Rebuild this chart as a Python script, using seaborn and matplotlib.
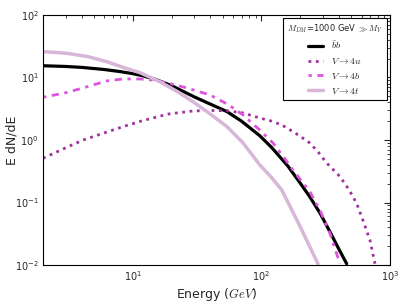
import numpy as np
import pandas as pd
import matplotlib
matplotlib.use('Agg')
import matplotlib.pyplot as plt
import seaborn as sns

# values (energy in GeV, E dN/dE)
bb_E = [2.0, 3.0, 4.0, 6.0, 8.0, 10.0, 12.0, 15.0, 20.0, 30.0, 40.0, 54.0, 70.0, 97.0, 120.0,
        161.0, 200.0, 238.0, 285.0, 341.0, 400.0, 460.0]
bb_y = [15.4, 15.0, 14.5, 13.4, 12.4, 11.5, 10.6, 9.3, 7.4, 4.9, 3.75, 2.84, 2.0, 1.17, 0.76,
        0.38, 0.205, 0.123, 0.068, 0.034, 0.018, 0.0105]

u_E = [2.0, 3.0, 4.1, 6.0, 8.35, 12.0, 18.8, 29.3, 40.0, 54.0, 72.0, 97.0, 120.0, 144.0, 167.0,
       200.0, 238.0, 280.0, 321.0, 408.0, 480.0, 550.0, 620.0, 698.0, 764.0]
u_y = [0.51, 0.75, 1.0, 1.3, 1.63, 2.05, 2.6, 2.91, 2.97, 2.94, 2.7, 2.25, 2.0, 1.74, 1.45,
       1.15, 0.895, 0.62, 0.43, 0.26, 0.16, 0.097, 0.05, 0.025, 0.0105]

b_E = [2.0, 3.0, 4.0, 6.26, 8.35, 11.4, 14.0, 18.0, 25.0, 39.8, 55.0, 72.0, 95.0, 123.0, 150.0,
       176.0, 238.0, 290.0, 341.0, 408.0]
b_y = [4.82, 5.7, 6.7, 8.8, 9.46, 9.46, 9.1, 8.3, 7.0, 5.25, 3.7, 2.51, 1.5, 0.895, 0.52,
       0.33, 0.149, 0.07, 0.032, 0.0105]

t_E = [2.0, 3.0, 4.5, 6.26, 8.0, 11.4, 16.2, 22.0, 29.3, 40.0, 54.0, 72.0, 97.0, 120.0, 144.0,
       199.0, 275.0]
t_y = [25.9, 24.5, 21.5, 17.9, 15.0, 11.9, 8.57, 6.0, 4.1, 2.6, 1.63, 0.895, 0.40, 0.25, 0.158,
       0.042, 0.0105]

sns.set_style('white')
plt.rcParams['font.family'] = ['DejaVu Sans']
plt.rcParams['mathtext.fontset'] = 'cm'
plt.rcParams['xtick.direction'] = 'in'
plt.rcParams['ytick.direction'] = 'in'
plt.rcParams['xtick.top'] = True
plt.rcParams['ytick.right'] = True

fig = plt.figure(figsize=(4.07, 3.05), dpi=100)
ax = fig.add_axes([0.1057, 0.131, 0.8526, 0.82])

sns.lineplot(x=bb_E, y=bb_y, ax=ax, color='black', lw=2.3, label=r'$\bar{b}b$')
sns.lineplot(x=u_E, y=u_y, ax=ax, color='#a030a0', lw=2.0, linestyle=':',
             label=r'$V\to 4u$')
ln = sns.lineplot(x=b_E, y=b_y, ax=ax, color='#dd55dd', lw=2.0, label=r'$V\to 4b$')
ln.lines[-1].set_dashes([1.2, 2.0, 2.6, 2.0])
sns.lineplot(x=t_E, y=t_y, ax=ax, color='#d8b6d8', lw=2.5, label=r'$V\to 4t$')

ax.set_xscale('log')
ax.set_yscale('log')
ax.set_xlim(2, 1000)
ax.set_ylim(1e-2, 1e2)
ax.set_xlabel(r'Energy ($GeV$)', fontsize=9, labelpad=2)
ax.set_ylabel('E dN/dE', fontsize=9)
ax.yaxis.set_label_coords(-0.072, 0.5)
ax.tick_params(which='both', labelsize=7, direction='in', top=True, right=True, pad=3)
ax.tick_params(which='major', length=4)
ax.tick_params(which='minor', length=2)
for s in ax.spines.values():
    s.set_color('black')
    s.set_linewidth(0.8)

leg = ax.legend(title=r'$M_{DM}$=1000 GeV $\gg M_V$', loc='upper right',
                fontsize=7, title_fontsize=6, fancybox=False, framealpha=1,
                edgecolor='black', handlelength=1.6, borderaxespad=0.35,
                labelspacing=0.5, borderpad=0.4)
leg.get_frame().set_linewidth(0.8)

fig.savefig('out.png', dpi=100)
